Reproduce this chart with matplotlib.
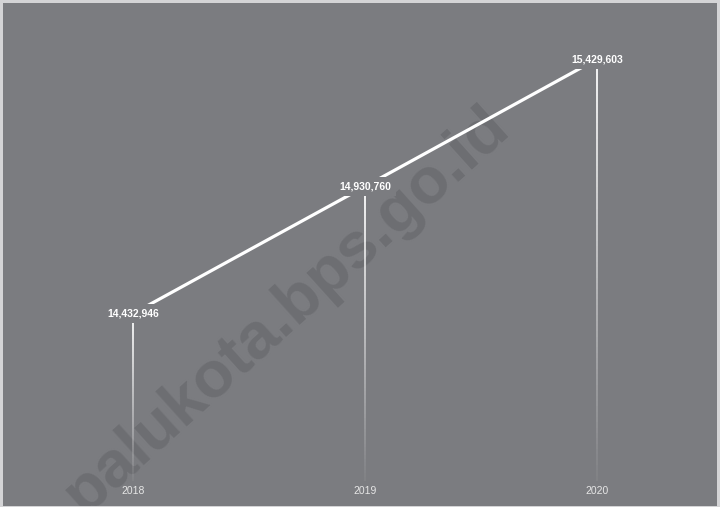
import numpy as np
import matplotlib.pyplot as plt
from matplotlib.collections import LineCollection

# data
years = ["2018", "2019", "2020"]
values = [14432946, 14930760, 15429603]
labels = ["14,432,946", "14,930,760", "15,429,603"]

bg = "#7b7c80"
wm = "#6d6e72"

fig = plt.figure(figsize=(7.2, 5.07), dpi=100, facecolor="#d4d4d6")
ax = fig.add_axes([3 / 720, 1 / 507, 714 / 720, 503 / 507])
ax.set_facecolor(bg)
ax.set_xlim(-0.560, 2.517)
ax.set_ylim(13679562, 15649348)
for s in ax.spines.values():
    s.set_visible(False)
ax.set_xticks([])
ax.set_yticks([])

# watermark
ax.text(0.712, 0.747, "palukota.bps.go.id", transform=ax.transAxes,
        rotation=42, rotation_mode="anchor", ha="right", va="baseline",
        fontsize=47, fontweight="bold", family="Liberation Sans",
        color=wm, zorder=0, clip_on=True)

x = np.arange(len(years))

# fading drop lines
base = 13777659
for xi, v in zip(x, values):
    ys = np.linspace(base, v, 80)
    segs = [[(xi, ys[i]), (xi, ys[i + 1])] for i in range(len(ys) - 1)]
    alphas = np.linspace(0.05, 1.0, len(segs))
    cols = [(1, 1, 1, a) for a in alphas]
    ax.add_collection(LineCollection(segs, colors=cols, linewidths=1.3, zorder=2))

ax.plot(x, values, color="white", lw=2.3, zorder=3, solid_capstyle="butt")

for xi, v, lab in zip(x, values, labels):
    ax.text(xi, v, lab, ha="center", va="center", fontsize=7.5, fontweight="bold",
            family="Liberation Sans", color="white", zorder=5,
            bbox=dict(boxstyle="square,pad=0.45", fc=bg, ec="none"))

for xi, yr in zip(x, years):
    ax.text(xi, 0.03, yr, transform=ax.get_xaxis_transform(), ha="center", va="center",
            fontsize=7.5, family="Liberation Sans", color="#e6e6e6", zorder=5)

fig.savefig("out.png", dpi=100, facecolor=fig.get_facecolor())
